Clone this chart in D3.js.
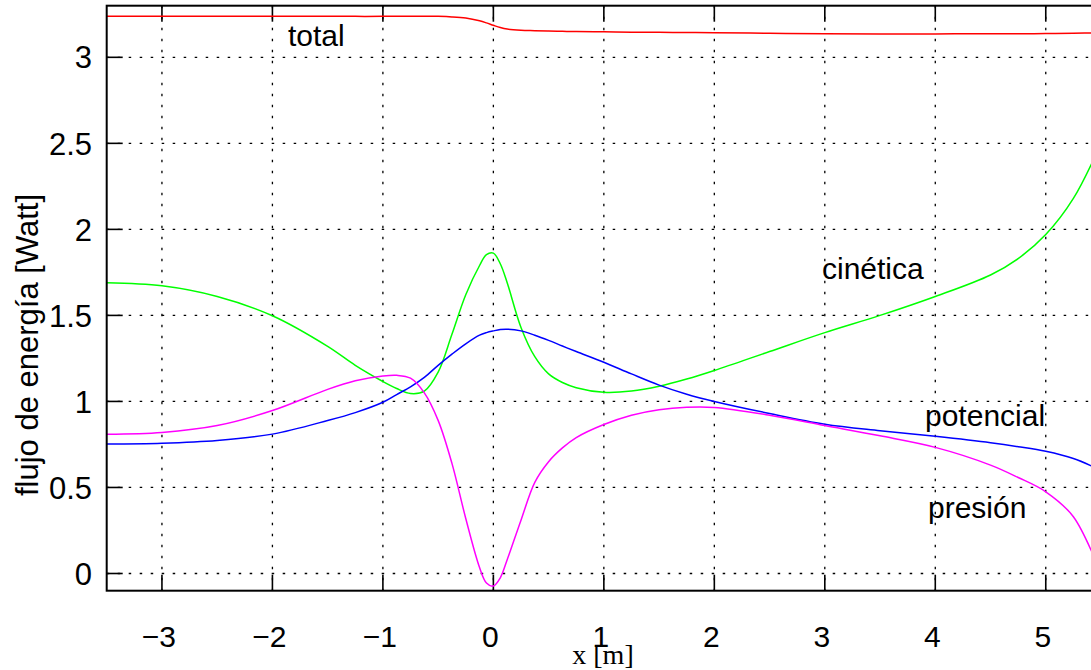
<!DOCTYPE html>
<html>
<head>
<meta charset="utf-8">
<script src="https://cdn.jsdelivr.net/npm/d3@7"></script>
<style>
  html, body { margin: 0; padding: 0; background: #fff; }
  svg { display: block; }
</style>
</head>
<body>
<svg id="chart" width="1091" height="670"></svg>
<script>
// ---- data ----
const xValues = [-3.5, -3, -2.5, -2, -1.5, -1.25, -1, -0.875, -0.75, -0.625, -0.5, -0.375, -0.25, -0.125, -0.0625, 0, 0.0625, 0.125, 0.25, 0.375, 0.5, 0.625, 0.75, 1, 1.25, 1.5, 1.75, 2, 2.5, 3, 3.5, 4, 4.5, 4.75, 5, 5.25, 5.5];
const totalValues = [3.238, 3.238, 3.238, 3.238, 3.238, 3.238, 3.238, 3.239, 3.239, 3.239, 3.238, 3.235, 3.228, 3.212, 3.200, 3.186, 3.173, 3.164, 3.157, 3.155, 3.153, 3.151, 3.150, 3.148, 3.146, 3.145, 3.144, 3.143, 3.140, 3.137, 3.136, 3.136, 3.137, 3.137, 3.138, 3.140, 3.142];
const cineticaValues = [1.69, 1.672, 1.61, 1.498, 1.32, 1.21, 1.116, 1.075, 1.046, 1.06, 1.17, 1.39, 1.62, 1.79, 1.853, 1.862, 1.80, 1.69, 1.43, 1.26, 1.16, 1.11, 1.08, 1.053, 1.06, 1.088, 1.13, 1.18, 1.29, 1.40, 1.50, 1.61, 1.735, 1.83, 1.97, 2.18, 2.50];
const potencialValues = [0.752, 0.757, 0.773, 0.81, 0.889, 0.935, 0.995, 1.04, 1.085, 1.14, 1.21, 1.275, 1.335, 1.385, 1.40, 1.41, 1.418, 1.42, 1.41, 1.385, 1.355, 1.322, 1.29, 1.228, 1.16, 1.095, 1.042, 1.0, 0.93, 0.868, 0.83, 0.797, 0.76, 0.737, 0.71, 0.668, 0.60];
const presionValues = [0.81, 0.82, 0.86, 0.947, 1.07, 1.12, 1.148, 1.152, 1.135, 1.05, 0.89, 0.64, 0.32, 0.035, -0.055, -0.073, -0.025, 0.08, 0.31, 0.53, 0.65, 0.73, 0.79, 0.866, 0.92, 0.952, 0.966, 0.965, 0.92, 0.86, 0.80, 0.733, 0.63, 0.558, 0.475, 0.33, 0.0];

const seriesNames = ["total", "cinética", "potencial", "presión"];
const seriesColors = ["#ff0000", "#00ff00", "#0000ff", "#ff00ff"];
const xTicks = [-3, -2, -1, 0, 1, 2, 3, 4, 5];
const yTicks = [0, 0.5, 1, 1.5, 2, 2.5, 3];
const yTickLabels = ["0", "0.5", "1", "1.5", "2", "2.5", "3"];
const xTickLabels = ["\u22123", "\u22122", "\u22121", "0", "1", "2", "3", "4", "5"];

// ---- layout ----
const pLeft = 106.7, pRight = 1101, pTop = 5.7, pBottom = 590.7;
const x = d3.scaleLinear().domain([-3.5, 5.5]).range([pLeft, pRight]);
const y = d3.scaleLinear().domain([-0.1, 3.3]).range([pBottom, pTop]);

const svg = d3.select("#chart");
const font = "'Liberation Sans', Arial, Helvetica, sans-serif";

svg.append("defs").append("clipPath").attr("id", "clip")
  .append("rect").attr("x", pLeft).attr("y", pTop).attr("width", pRight - pLeft).attr("height", pBottom - pTop);

// grid
const grid = svg.append("g").attr("stroke", "#000").attr("stroke-width", 1.3).attr("stroke-dasharray", "2.5,8.5");
grid.selectAll("line.gx").data(xTicks).join("line").attr("class", "gx")
  .attr("x1", d => x(d)).attr("x2", d => x(d)).attr("y1", pTop).attr("y2", pBottom);
grid.selectAll("line.gy").data(yTicks).join("line").attr("class", "gy")
  .attr("x1", pLeft).attr("x2", pRight).attr("y1", d => y(d)).attr("y2", d => y(d));

// ticks (inward)
const tk = svg.append("g").attr("stroke", "#000").attr("stroke-width", 1.6);
const tickLen = 16;
tk.selectAll("line.ty").data(yTicks).join("line").attr("class", "ty")
  .attr("x1", pLeft).attr("x2", pLeft + tickLen).attr("y1", d => y(d)).attr("y2", d => y(d));
tk.selectAll("line.txb").data(xTicks).join("line").attr("class", "txb")
  .attr("x1", d => x(d)).attr("x2", d => x(d)).attr("y1", pBottom).attr("y2", pBottom - tickLen);
tk.selectAll("line.txt").data(xTicks).join("line").attr("class", "txt")
  .attr("x1", d => x(d)).attr("x2", d => x(d)).attr("y1", pTop).attr("y2", pTop + tickLen);

// curves
const table = xValues.map((xv, i) => ({ x: xv, v: [totalValues[i], cineticaValues[i], potencialValues[i], presionValues[i]] }));
const curves = svg.append("g").attr("clip-path", "url(#clip)");
seriesNames.forEach((name, k) => {
  const line = d3.line().x(d => x(d.x)).y(d => y(d.v[k])).curve(d3.curveCatmullRom.alpha(0.5));
  curves.append("path").datum(table)
    .attr("fill", "none").attr("stroke", seriesColors[k]).attr("stroke-width", 1.5)
    .attr("d", line);
});

// frame
svg.append("rect").attr("x", pLeft).attr("y", pTop).attr("width", pRight - pLeft).attr("height", pBottom - pTop)
  .attr("fill", "none").attr("stroke", "#000").attr("stroke-width", 2);

// tick labels
svg.append("g").selectAll("text").data(yTicks).join("text")
  .attr("x", 92).attr("y", d => y(d)).attr("dy", "0.36em")
  .attr("text-anchor", "end").attr("font-family", font).attr("font-size", 31)
  .text((d, i) => yTickLabels[i]);
svg.append("g").selectAll("text").data(xTicks).join("text")
  .attr("x", d => x(d) - 3).attr("y", 647)
  .attr("text-anchor", "middle").attr("font-family", font).attr("font-size", 30)
  .text((d, i) => xTickLabels[i]);

// axis titles
svg.append("text").attr("transform", "translate(38,345) rotate(-90)")
  .attr("text-anchor", "middle").attr("font-family", font).attr("font-size", 31)
  .text("flujo de energía [Watt]");
svg.append("text").attr("x", 603).attr("y", 664)
  .attr("text-anchor", "middle").attr("font-family", "'Liberation Serif', 'Times New Roman', serif").attr("font-size", 28)
  .text("x [m]");

// curve labels
const curveLabels = [
  { text: "total", px: 288, py: 46 },
  { text: "cinética", px: 822, py: 279 },
  { text: "potencial", px: 925, py: 426 },
  { text: "presión", px: 928, py: 518 }
];
svg.append("g").selectAll("text").data(curveLabels).join("text")
  .attr("x", d => d.px).attr("y", d => d.py)
  .attr("font-family", font).attr("font-size", 30)
  .text(d => d.text);
</script>
</body>
</html>
